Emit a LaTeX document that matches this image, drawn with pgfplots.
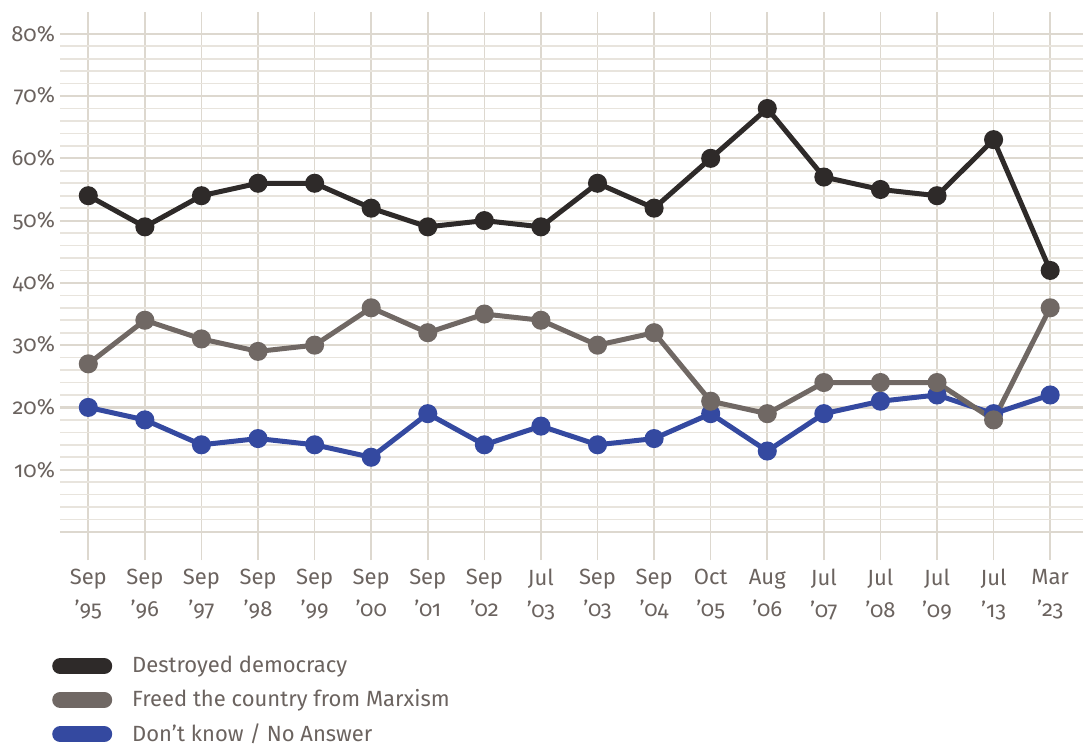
\documentclass[border=0pt]{standalone}
\usepackage{fontspec}
\setmainfont{Fira Sans}[Numbers=OldStyle]
\usepackage{pgfplots}
\pgfplotsset{compat=1.18}
\definecolor{cDem}{HTML}{2E2A29}
\definecolor{cMarx}{HTML}{706864}
\definecolor{cDk}{HTML}{3449A0}
\definecolor{txt}{HTML}{6B635F}
\definecolor{gmaj}{HTML}{DDD8CF}
\definecolor{gmin}{HTML}{E8E4DD}
\begin{document}
\begin{tikzpicture}
\useasboundingbox (0,0) rectangle (541.5pt,372.5pt);
\begin{axis}[
  at={(30pt,92.5pt)}, anchor=south west,
  scale only axis, width=511.5pt, height=274pt,
  xmin=-0.5, xmax=17.58, ymin=-4.5, ymax=83.5,
  axis line style={draw=none}, tick style={draw=none},
  xtick={0,...,17},
  xticklabels={{Sep\\’95},{Sep\\’96},{Sep\\’97},{Sep\\’98},{Sep\\’99},{Sep\\’00},{Sep\\’01},{Sep\\’02},{Jul\\’03},{Sep\\’03},{Sep\\’04},{Oct\\’05},{Aug\\’06},{Jul\\’07},{Jul\\’08},{Jul\\’09},{Jul\\’13},{Mar\\’23}},
  xticklabel style={align=center, text=txt, font=\fontsize{11}{16}\selectfont, yshift=-1pt},
  ytick={0,10,...,80},
  yticklabels={,10\%,20\%,30\%,40\%,50\%,60\%,70\%,80\%},
  minor ytick={2,4,...,78},
  yticklabel style={text=txt, font=\fontsize{11}{13}\selectfont, xshift=1pt},
  xmajorgrids, ymajorgrids, yminorgrids,
  x grid style={draw=gmaj, line width=0.8pt},
  major grid style={draw=gmaj, line width=1.1pt},
  minor grid style={draw=gmin, line width=0.8pt},
  clip=false,
  legend style={draw=none, fill=none, at={(axis description cs:-0.008,-0.1733)}, anchor=north west,
    font=\fontsize{11}{13}\selectfont, text=txt, row sep=5.95pt, inner sep=0pt,
    nodes={inner sep=0.5pt}},
  legend cell align=left,
  legend image code/.code={\draw[#1, line width=8pt, line cap=round, mark=none] (4pt,0pt) -- (26pt,0pt); \path[draw=none] (0pt,0pt) -- (39.5pt,0pt);},
]
\addplot[cDem, line width=2.5pt, mark=*, mark size=3.5pt, forget plot] coordinates {
(0,54)(1,49)(2,54)(3,56)(4,56)(5,52)(6,49)(7,50)(8,49)(9,56)(10,52)(11,60)(12,68)(13,57)(14,55)(15,54)(16,63)(17,42)};
\addplot[cDk, line width=2.5pt, mark=*, mark size=3.5pt, forget plot] coordinates {
(0,20)(1,18)(2,14)(3,15)(4,14)(5,12)(6,19)(7,14)(8,17)(9,14)(10,15)(11,19)(12,13)(13,19)(14,21)(15,22)(16,19)(17,22)};
\addplot[cMarx, line width=2.5pt, mark=*, mark size=3.5pt, forget plot] coordinates {
(0,27)(1,34)(2,31)(3,29)(4,30)(5,36)(6,32)(7,35)(8,34)(9,30)(10,32)(11,21)(12,19)(13,24)(14,24)(15,24)(16,18)(17,36)};
\addlegendimage{cDem}
\addlegendentry{Destroyed democracy}
\addlegendimage{cMarx}
\addlegendentry{Freed the country from Marxism}
\addlegendimage{cDk}
\addlegendentry{Don’t know / No Answer}
\end{axis}
\end{tikzpicture}
\end{document}
